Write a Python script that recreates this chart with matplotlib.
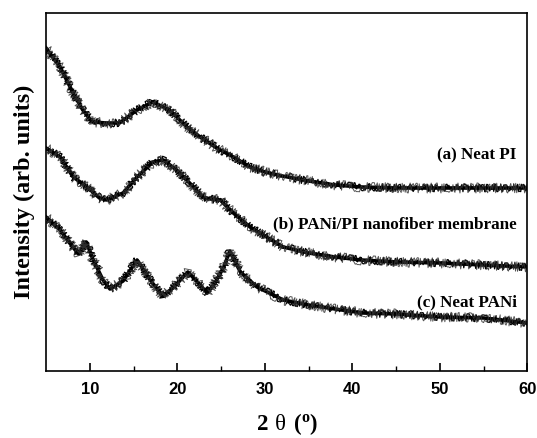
#!/usr/bin/env python3
"""
XRD patterns of neat PI, PANi/PI nanofiber membrane and neat PANi.
"""

import matplotlib
matplotlib.use('Agg')
import matplotlib.pyplot as plt

# Data (2 theta in degrees, intensity in arb. units, offset stacked)
theta_a = [5.0, 6.6, 8.1, 9.2, 10.3, 11.9, 13.4, 15.4, 17.2, 19.1, 21.1, 22.6,
           24.5, 26.4, 28.3, 30.0, 32.0, 35.0, 38.0, 41.0, 45.0, 50.0, 55.0, 60.0]
int_a = [323, 304, 278, 261, 249, 248, 248, 261, 269, 261, 244, 234,
         223, 214, 204, 199, 195, 190, 186, 184, 183, 183, 183, 183]

theta_b = [5.0, 6.6, 8.1, 9.7, 11.1, 11.9, 13.8, 15.4, 17.2, 18.4, 19.9, 21.4,
           22.9, 23.8, 24.9, 26.4, 28.3, 30.2, 32.1, 35.0, 38.0, 41.0, 45.0,
           50.0, 55.0, 60.0]
int_b = [223, 214, 194, 184, 173, 171, 178, 194, 209, 211, 201, 188,
         174, 172, 171, 158, 144, 134, 124, 118, 114, 111, 109,
         108, 106, 104]

theta_c = [5.0, 6.6, 7.7, 8.7, 9.6, 10.3, 11.5, 12.3, 13.8, 15.4, 16.9, 18.3,
           19.5, 21.2, 22.4, 23.4, 24.3, 25.3, 26.0, 27.2, 29.1, 30.5, 32.1,
           35.0, 38.0, 41.2, 45.0, 50.0, 55.0, 60.0]
int_c = [154, 141, 128, 117, 129, 113, 91, 82, 90, 111, 91, 75,
         83, 99, 88, 78, 88, 104, 120, 99, 84, 78, 71,
         66, 62, 58, 57, 54, 53, 48]

labels = ['(a) Neat PI', '(b) PANi/PI nanofiber membrane', '(c) Neat PANi']
label_y = [216, 147, 69]

serif = ['Liberation Serif', 'DejaVu Serif']
sans = ['Liberation Sans', 'DejaVu Sans']
plt.rcParams['mathtext.fontset'] = 'custom'
plt.rcParams['mathtext.rm'] = 'Liberation Serif'
plt.rcParams['mathtext.bf'] = 'Liberation Serif:bold'

fig = plt.figure(figsize=(5.37, 4.38), dpi=100)
fig.patch.set_facecolor('white')
ax = fig.add_axes([0.0857, 0.153, 0.8966, 0.8173])

# Noisy scan look comes from the sketch style, not from the data:
# a solid core plus two thin jittered strokes
for th, inten in [(theta_a, int_a), (theta_b, int_b), (theta_c, int_c)]:
    ax.plot(th, inten, color='black', linewidth=2.6, solid_joinstyle='round')
    spikes, = ax.plot(th, inten, color='black', linewidth=0.9)
    spikes.set_sketch_params(scale=3.8, length=0.25, randomness=12.0)
    fuzz, = ax.plot(th, inten, color='#333333', linewidth=0.7, alpha=0.85)
    fuzz.set_sketch_params(scale=5.0, length=0.2, randomness=20.0)

for text, yy in zip(labels, label_y):
    ax.text(58.75, yy, text, ha='right', va='center', fontsize=12.3,
            fontweight='bold', family=serif)

ax.set_xlim(5, 60)
ax.set_ylim(0, 358)
ax.set_xticks([10, 20, 30, 40, 50, 60])
ax.set_xticks([15, 25, 35, 45, 55], minor=True)
ax.set_yticks([])
ax.tick_params(axis='x', which='major', direction='in', length=6, width=1.2,
               labelsize=12, pad=8)
ax.tick_params(axis='x', which='minor', direction='in', length=3.5, width=1.0)
for lbl in ax.get_xticklabels():
    lbl.set_fontweight('bold')
    lbl.set_family(sans)

for spine in ax.spines.values():
    spine.set_linewidth(1.2)

ax.set_xlabel(r'$\mathbf{2}\ \mathrm{\theta}\ \mathbf{(^{o})}$', fontsize=16.5,
              labelpad=10)
ax.set_ylabel('Intensity (arb. units)', fontsize=17.5, fontweight='bold',
              family=serif, labelpad=8)

plt.savefig('out.png', dpi=100, facecolor='white')
plt.close()
